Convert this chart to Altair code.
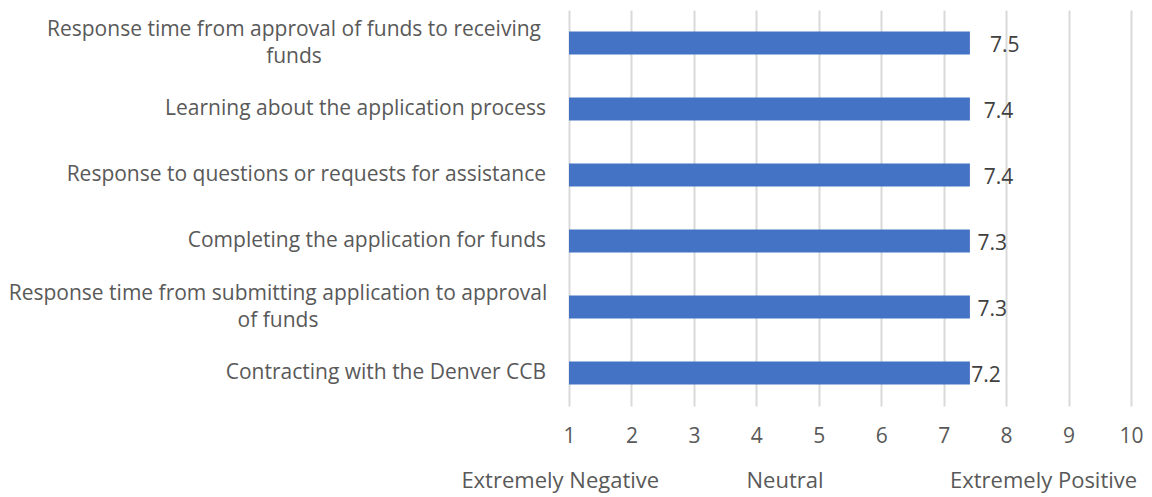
import altair as alt
import pandas as pd

categories = [
    "Response time from approval of funds to receiving funds",
    "Learning about the application process",
    "Response to questions or requests for assistance",
    "Completing the application for funds",
    "Response time from submitting application to approval of funds",
    "Contracting with the Denver CCB",
]
line1 = [
    "Response time from approval of funds to receiving",
    "Learning about the application process",
    "Response to questions or requests for assistance",
    "Completing the application for funds",
    "Response time from submitting application to approval",
    "Contracting with the Denver CCB",
]
line2 = ["funds", "", "", "", "of funds", ""]
bar_ends = [7.42, 7.42, 7.42, 7.42, 7.42, 7.42]
label_values = [7.5, 7.4, 7.4, 7.3, 7.3, 7.2]
bar_start = 1

captions = ["Extremely Negative", "Neutral", "Extremely Positive"]
caption_pos = [0.86, 4.46, 8.6]

df = pd.DataFrame({
    "cat": categories,
    "l1": line1,
    "l2": line2,
    "start": [bar_start] * len(categories),
    "end": bar_ends,
    "lv": label_values,
    "lbl": [f"{v:.1f}" for v in label_values],
})
cap_df = pd.DataFrame({"txt": captions, "pos": caption_pos})

FONT = "Open Sans"
TXT = "#595959"
FS = 21
xscale = alt.Scale(domain=[1, 10], nice=False, zero=False)
ysc = alt.Scale(paddingInner=0.65, paddingOuter=0.325)

bars = alt.Chart(df).mark_bar(color="#4472C4").encode(
    x=alt.X("start:Q", scale=xscale,
            axis=alt.Axis(title=None, values=list(range(1, 11)), format="d", grid=True,
                          gridColor="#D9D9D9", gridWidth=2, domain=False, ticks=False,
                          labelFlush=False, labelOverlap=False,
                          labelFont=FONT, labelFontSize=FS, labelColor=TXT,
                          labelPadding=19)),
    x2="end:Q",
    y=alt.Y("cat:N", sort=categories, scale=ysc, axis=None),
)

base = alt.Chart(df)
ycat = alt.Y("cat:N", sort=categories)

# single-line category labels, right aligned next to the axis
single = base.transform_filter("datum.l2 == ''").mark_text(
    align="right", baseline="middle", dx=-23, font=FONT, fontSize=FS, color=TXT
).encode(x=alt.value(0), y=ycat, text="l1:N")

# wrapped labels: each centred under its own first line
wrap_layers = []
for cat, center in [(categories[0], -275), (categories[4], -291)]:
    sub = base.transform_filter(alt.datum.cat == cat)
    wrap_layers.append(sub.mark_text(align="center", baseline="middle", dy=-13,
                                     font=FONT, fontSize=FS, color=TXT)
                       .encode(x=alt.value(center), y=ycat, text="l1:N"))
    wrap_layers.append(sub.mark_text(align="center", baseline="middle", dy=14,
                                     font=FONT, fontSize=FS, color=TXT)
                       .encode(x=alt.value(center), y=ycat, text="l2:N"))

labels = base.mark_text(align="left", baseline="middle", dx=15, dy=3,
                        font=FONT, fontSize=21, color="#404040").encode(
    x=alt.X("lv:Q", scale=xscale),
    y=ycat,
    text="lbl:N",
)

caps = alt.Chart(cap_df).mark_text(align="center", baseline="middle",
                                   font=FONT, fontSize=22, color=TXT).encode(
    x=alt.X("pos:Q", scale=xscale),
    y=alt.value(471),
    text="txt:N",
)

chart = alt.layer(bars, single, *wrap_layers, labels, caps).properties(
    width=562, height=396,
    autosize=alt.AutoSizeParams(type="none"),
    padding={"left": 561, "top": 2, "right": 13, "bottom": 91},
).configure_view(stroke=None)

chart.save("out.html", embed_options={"renderer": "svg", "actions": False})
